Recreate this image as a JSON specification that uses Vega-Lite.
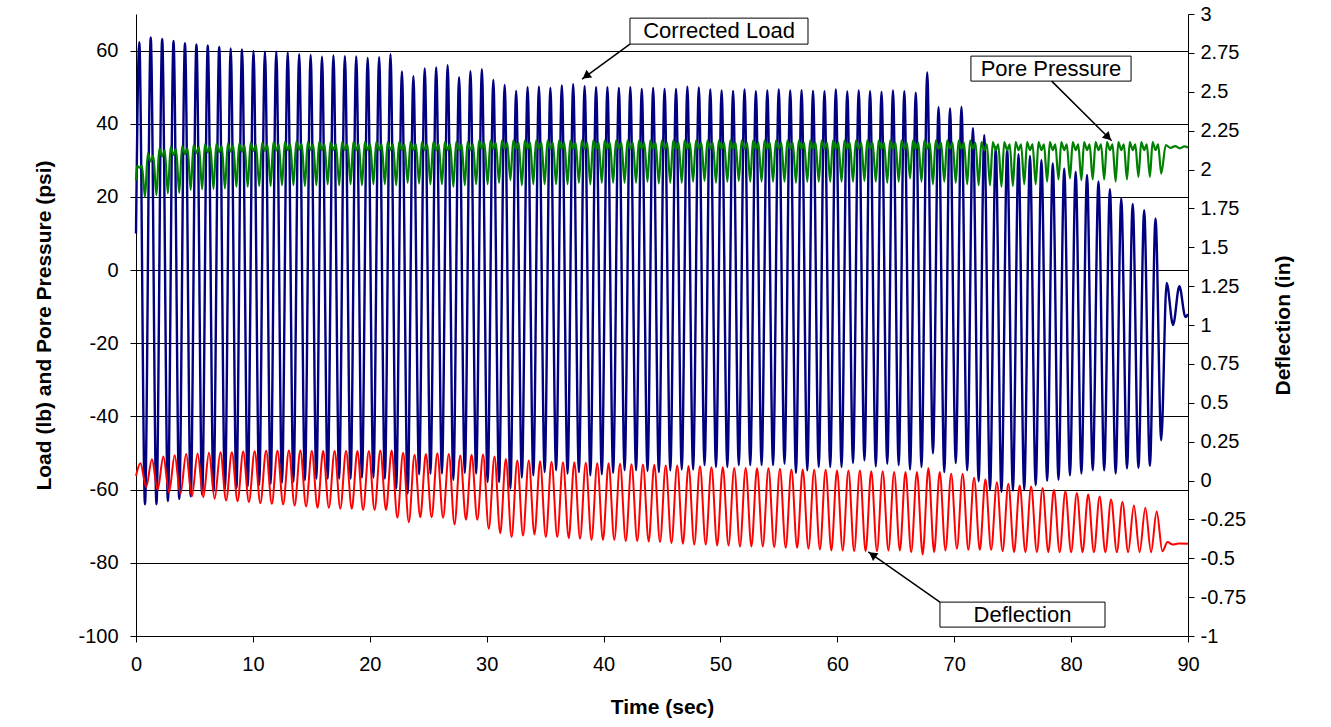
{
"$schema":"https://vega.github.io/schema/vega-lite/v6.json",
"width":1052,"height":622,
"autosize":{"type":"none"},
"padding":{"left":136,"top":14,"right":143,"bottom":91},
"background":"white",
"config":{"view":{"stroke":null},"font":"Liberation Sans",
"axis":{"labelFont":"Liberation Sans","titleFont":"Liberation Sans","labelFontSize":20,"titleFontSize":21,"titleFontWeight":"bold","labelColor":"#000","titleColor":"#000","domainColor":"#000","tickColor":"#000","tickSize":6,"labelFlush":false,"labelOverlap":false}},
"datasets":{
"load":[{"t":0,"v":10},
{"t":0.28,"v":62.3},{"t":0.77,"v":-64.0},{"t":1.26,"v":63.6},{"t":1.75,"v":-64.0},{"t":2.24,"v":63.2},{"t":2.73,"v":-63.1},{"t":3.21,"v":62.6},{"t":3.70,"v":-62.5},{"t":4.19,"v":62.0},{"t":4.68,"v":-61.8},
{"t":5.17,"v":61.7},{"t":5.66,"v":-61.3},{"t":6.14,"v":61.4},{"t":6.63,"v":-60.4},{"t":7.12,"v":61.0},{"t":7.61,"v":-59.9},{"t":8.10,"v":60.6},{"t":8.59,"v":-59.5},{"t":9.07,"v":60.3},{"t":9.56,"v":-59.1},
{"t":10.05,"v":59.9},{"t":10.54,"v":-58.7},{"t":11.03,"v":59.7},{"t":11.52,"v":-58.4},{"t":12.00,"v":59.7},{"t":12.49,"v":-58.1},{"t":12.98,"v":59.5},{"t":13.47,"v":-57.8},{"t":13.96,"v":59.0},{"t":14.45,"v":-57.4},
{"t":14.94,"v":58.8},{"t":15.43,"v":-57.0},{"t":15.91,"v":58.3},{"t":16.40,"v":-57.0},{"t":16.89,"v":58.7},{"t":17.38,"v":-57.0},{"t":17.87,"v":58.5},{"t":18.36,"v":-57.0},{"t":18.84,"v":58.4},{"t":19.33,"v":-56.7},
{"t":19.82,"v":58.0},{"t":20.31,"v":-56.7},{"t":20.80,"v":58.2},{"t":21.29,"v":-57.0},{"t":21.77,"v":59.0},{"t":22.26,"v":-59.7},{"t":22.75,"v":54.3},{"t":23.24,"v":-61.1},{"t":23.73,"v":53.0},{"t":24.22,"v":-55.8},
{"t":24.70,"v":55.1},{"t":25.19,"v":-55.6},{"t":25.68,"v":55.4},{"t":26.17,"v":-55.6},{"t":26.66,"v":56.0},{"t":27.15,"v":-57.3},{"t":27.64,"v":52.7},{"t":28.13,"v":-55.4},{"t":28.61,"v":54.4},{"t":29.10,"v":-55.6},
{"t":29.59,"v":54.9},{"t":30.08,"v":-57.9},{"t":30.57,"v":52.0},{"t":31.06,"v":-57.9},{"t":31.54,"v":50.6},{"t":32.03,"v":-59.7},{"t":32.52,"v":49.0},{"t":33.01,"v":-56.7},{"t":33.50,"v":50.0},{"t":33.99,"v":-56.1},
{"t":34.47,"v":50.1},{"t":34.96,"v":-55.2},{"t":35.45,"v":49.8},{"t":35.94,"v":-54.7},{"t":36.43,"v":50.5},{"t":36.92,"v":-55.6},{"t":37.40,"v":50.8},{"t":37.89,"v":-55.2},{"t":38.38,"v":50.3},{"t":38.87,"v":-56.1},
{"t":39.36,"v":50.0},{"t":39.85,"v":-55.8},{"t":40.33,"v":50.0},{"t":40.82,"v":-55.4},{"t":41.31,"v":49.8},{"t":41.80,"v":-54.7},{"t":42.29,"v":50.0},{"t":42.78,"v":-54.7},{"t":43.27,"v":49.5},{"t":43.76,"v":-54.9},
{"t":44.24,"v":49.8},{"t":44.73,"v":-55.2},{"t":45.22,"v":49.5},{"t":45.71,"v":-54.7},{"t":46.20,"v":49.5},{"t":46.69,"v":-54.5},{"t":47.17,"v":50.1},{"t":47.66,"v":-54.5},{"t":48.15,"v":49.9},{"t":48.64,"v":-53.3},
{"t":49.13,"v":49.4},{"t":49.62,"v":-53.8},{"t":50.10,"v":49.1},{"t":50.59,"v":-53.8},{"t":51.08,"v":49.0},{"t":51.57,"v":-53.3},{"t":52.06,"v":49.4},{"t":52.55,"v":-53.3},{"t":53.03,"v":48.9},{"t":53.52,"v":-53.3},
{"t":54.01,"v":49.1},{"t":54.50,"v":-53.3},{"t":54.99,"v":49.4},{"t":55.48,"v":-52.9},{"t":55.97,"v":49.1},{"t":56.46,"v":-55.4},{"t":56.94,"v":49.2},{"t":57.43,"v":-54.7},{"t":57.92,"v":49.0},{"t":58.41,"v":-53.8},
{"t":58.90,"v":48.9},{"t":59.39,"v":-53.8},{"t":59.87,"v":49.4},{"t":60.36,"v":-53.8},{"t":60.85,"v":48.8},{"t":61.34,"v":-52.7},{"t":61.83,"v":49.1},{"t":62.32,"v":-52.0},{"t":62.80,"v":48.9},{"t":63.29,"v":-53.6},
{"t":63.78,"v":48.7},{"t":64.27,"v":-52.9},{"t":64.76,"v":49.1},{"t":65.25,"v":-53.3},{"t":65.73,"v":48.9},{"t":66.22,"v":-54.5},{"t":66.71,"v":48.5},{"t":67.20,"v":-53.8},{"t":67.69,"v":54.0},{"t":68.18,"v":-50.1},
{"t":68.66,"v":44.5},{"t":69.15,"v":-55.2},{"t":69.64,"v":44.2},{"t":70.13,"v":-52.7},{"t":70.62,"v":44.6},{"t":71.11,"v":-54.7},{"t":71.60,"v":38.8},{"t":72.09,"v":-57.7},{"t":72.57,"v":36.9},{"t":73.06,"v":-60.0},
{"t":73.55,"v":33.6},{"t":74.04,"v":-60.6},{"t":74.53,"v":33.3},{"t":75.02,"v":-60.2},{"t":75.50,"v":31.7},{"t":75.99,"v":-60.0},{"t":76.48,"v":31.2},{"t":76.97,"v":-58.8},{"t":77.46,"v":30.1},{"t":77.95,"v":-57.6},
{"t":78.43,"v":29.2},{"t":78.92,"v":-57.3},{"t":79.41,"v":27.8},{"t":79.90,"v":-56.1},{"t":80.39,"v":26.9},{"t":80.88,"v":-55.6},{"t":81.36,"v":26.0},{"t":81.85,"v":-54.7},{"t":82.34,"v":24.2},{"t":82.83,"v":-54.7},
{"t":83.32,"v":22.1},{"t":83.81,"v":-55.6},{"t":84.29,"v":19.6},{"t":84.78,"v":-54.2},{"t":85.27,"v":18.1},{"t":85.76,"v":-54.1},{"t":86.25,"v":16.4},{"t":86.74,"v":-53.5},{"t":87.22,"v":14.1},{"t":87.71,"v":-46.5},
{"t":88.17,"v":-3.5},{"t":88.72,"v":-15.0},{"t":89.26,"v":-4.4},{"t":89.78,"v":-12.8},{"t":90,"v":-12.0}],
"pore":[{"t":0,"v":24.5},{"t":0.1,"v":28.6},{"t":0.3,"v":28.0},{"t":0.5,"v":28.6},{"t":0.77,"v":20.0},
{"t":1.01,"v":31.9},{"t":1.26,"v":29.7},{"t":1.48,"v":31.3},{"t":1.75,"v":20.5},
{"t":1.99,"v":33.3},{"t":2.24,"v":31.1},{"t":2.46,"v":32.7},{"t":2.73,"v":21.0},
{"t":2.96,"v":33.7},{"t":3.21,"v":31.5},{"t":3.43,"v":33.1},{"t":3.70,"v":21.1},
{"t":3.94,"v":33.9},{"t":4.19,"v":31.7},{"t":4.41,"v":33.3},{"t":4.68,"v":21.9},
{"t":4.92,"v":34.2},{"t":5.17,"v":32.0},{"t":5.39,"v":33.6},{"t":5.66,"v":22.1},
{"t":5.89,"v":34.4},{"t":6.14,"v":32.2},{"t":6.36,"v":33.8},{"t":6.63,"v":22.2},
{"t":6.87,"v":34.5},{"t":7.12,"v":32.3},{"t":7.34,"v":33.9},{"t":7.61,"v":22.3},
{"t":7.85,"v":34.6},{"t":8.10,"v":32.4},{"t":8.32,"v":34.0},{"t":8.59,"v":22.8},
{"t":8.82,"v":34.6},{"t":9.07,"v":32.4},{"t":9.29,"v":34.0},{"t":9.56,"v":22.8},
{"t":9.80,"v":34.8},{"t":10.05,"v":32.6},{"t":10.27,"v":34.2},{"t":10.54,"v":23.0},
{"t":10.78,"v":34.8},{"t":11.03,"v":32.6},{"t":11.25,"v":34.2},{"t":11.52,"v":23.0},
{"t":11.75,"v":34.9},{"t":12.00,"v":32.7},{"t":12.22,"v":34.3},{"t":12.49,"v":23.2},
{"t":12.73,"v":35.0},{"t":12.98,"v":32.8},{"t":13.20,"v":34.4},{"t":13.47,"v":23.2},
{"t":13.71,"v":35.1},{"t":13.96,"v":32.9},{"t":14.18,"v":34.5},{"t":14.45,"v":23.0},
{"t":14.69,"v":35.0},{"t":14.94,"v":32.8},{"t":15.16,"v":34.4},{"t":15.43,"v":23.2},
{"t":15.66,"v":35.0},{"t":15.91,"v":32.8},{"t":16.13,"v":34.4},{"t":16.40,"v":23.5},
{"t":16.64,"v":35.0},{"t":16.89,"v":32.8},{"t":17.11,"v":34.4},{"t":17.38,"v":23.2},
{"t":17.62,"v":35.0},{"t":17.87,"v":32.8},{"t":18.09,"v":34.4},{"t":18.36,"v":23.5},
{"t":18.59,"v":35.0},{"t":18.84,"v":32.8},{"t":19.06,"v":34.4},{"t":19.33,"v":23.2},
{"t":19.57,"v":35.0},{"t":19.82,"v":32.8},{"t":20.04,"v":34.4},{"t":20.31,"v":23.5},
{"t":20.55,"v":35.0},{"t":20.80,"v":32.8},{"t":21.02,"v":34.4},{"t":21.29,"v":23.5},
{"t":21.52,"v":35.0},{"t":21.77,"v":32.8},{"t":21.99,"v":34.4},{"t":22.26,"v":23.2},
{"t":22.50,"v":35.0},{"t":22.75,"v":32.8},{"t":22.97,"v":34.4},{"t":23.24,"v":23.9},
{"t":23.48,"v":35.0},{"t":23.73,"v":32.8},{"t":23.95,"v":34.4},{"t":24.22,"v":23.7},
{"t":24.45,"v":35.0},{"t":24.70,"v":32.8},{"t":24.92,"v":34.4},{"t":25.19,"v":23.5},
{"t":25.43,"v":35.0},{"t":25.68,"v":32.8},{"t":25.90,"v":34.4},{"t":26.17,"v":23.5},
{"t":26.41,"v":35.0},{"t":26.66,"v":32.8},{"t":26.88,"v":34.4},{"t":27.15,"v":22.8},
{"t":27.39,"v":35.0},{"t":27.64,"v":32.8},{"t":27.86,"v":34.4},{"t":28.13,"v":23.2},
{"t":28.36,"v":35.0},{"t":28.61,"v":32.8},{"t":28.83,"v":34.4},{"t":29.10,"v":23.5},
{"t":29.34,"v":35.4},{"t":29.59,"v":33.2},{"t":29.81,"v":34.8},{"t":30.08,"v":23.5},
{"t":30.32,"v":35.4},{"t":30.57,"v":33.2},{"t":30.79,"v":34.8},{"t":31.06,"v":23.9},
{"t":31.29,"v":35.4},{"t":31.54,"v":33.2},{"t":31.76,"v":34.8},{"t":32.03,"v":24.6},
{"t":32.27,"v":35.4},{"t":32.52,"v":33.2},{"t":32.74,"v":34.8},{"t":33.01,"v":23.2},
{"t":33.25,"v":35.4},{"t":33.50,"v":33.2},{"t":33.72,"v":34.8},{"t":33.99,"v":23.5},
{"t":34.22,"v":35.4},{"t":34.47,"v":33.2},{"t":34.69,"v":34.8},{"t":34.96,"v":23.5},
{"t":35.20,"v":35.4},{"t":35.45,"v":33.2},{"t":35.67,"v":34.8},{"t":35.94,"v":23.5},
{"t":36.18,"v":35.4},{"t":36.43,"v":33.2},{"t":36.65,"v":34.8},{"t":36.92,"v":23.5},
{"t":37.15,"v":35.4},{"t":37.40,"v":33.2},{"t":37.62,"v":34.8},{"t":37.89,"v":23.9},
{"t":38.13,"v":35.4},{"t":38.38,"v":33.2},{"t":38.60,"v":34.8},{"t":38.87,"v":23.5},
{"t":39.11,"v":35.4},{"t":39.36,"v":33.2},{"t":39.58,"v":34.8},{"t":39.85,"v":23.9},
{"t":40.08,"v":35.4},{"t":40.33,"v":33.2},{"t":40.55,"v":34.8},{"t":40.82,"v":23.9},
{"t":41.06,"v":35.4},{"t":41.31,"v":33.2},{"t":41.53,"v":34.8},{"t":41.80,"v":23.9},
{"t":42.04,"v":35.4},{"t":42.29,"v":33.2},{"t":42.51,"v":34.8},{"t":42.78,"v":23.9},
{"t":43.02,"v":35.4},{"t":43.27,"v":33.2},{"t":43.49,"v":34.8},{"t":43.76,"v":24.2},
{"t":43.99,"v":35.4},{"t":44.24,"v":33.2},{"t":44.46,"v":34.8},{"t":44.73,"v":23.7},
{"t":44.97,"v":35.4},{"t":45.22,"v":33.2},{"t":45.44,"v":34.8},{"t":45.71,"v":23.9},
{"t":45.95,"v":35.4},{"t":46.20,"v":33.2},{"t":46.42,"v":34.8},{"t":46.69,"v":23.9},
{"t":46.92,"v":35.4},{"t":47.17,"v":33.2},{"t":47.39,"v":34.8},{"t":47.66,"v":24.2},
{"t":47.90,"v":35.4},{"t":48.15,"v":33.2},{"t":48.37,"v":34.8},{"t":48.64,"v":24.4},
{"t":48.88,"v":35.4},{"t":49.13,"v":33.2},{"t":49.35,"v":34.8},{"t":49.62,"v":23.9},
{"t":49.85,"v":35.4},{"t":50.10,"v":33.2},{"t":50.32,"v":34.8},{"t":50.59,"v":24.2},
{"t":50.83,"v":35.4},{"t":51.08,"v":33.2},{"t":51.30,"v":34.8},{"t":51.57,"v":24.4},
{"t":51.81,"v":35.4},{"t":52.06,"v":33.2},{"t":52.28,"v":34.8},{"t":52.55,"v":24.2},
{"t":52.78,"v":35.4},{"t":53.03,"v":33.2},{"t":53.25,"v":34.8},{"t":53.52,"v":24.2},
{"t":53.76,"v":35.4},{"t":54.01,"v":33.2},{"t":54.23,"v":34.8},{"t":54.50,"v":24.2},
{"t":54.74,"v":35.4},{"t":54.99,"v":33.2},{"t":55.21,"v":34.8},{"t":55.48,"v":24.2},
{"t":55.72,"v":35.4},{"t":55.97,"v":33.2},{"t":56.19,"v":34.8},{"t":56.46,"v":23.9},
{"t":56.69,"v":35.4},{"t":56.94,"v":33.2},{"t":57.16,"v":34.8},{"t":57.43,"v":24.2},
{"t":57.67,"v":35.4},{"t":57.92,"v":33.2},{"t":58.14,"v":34.8},{"t":58.41,"v":24.2},
{"t":58.65,"v":35.4},{"t":58.90,"v":33.2},{"t":59.12,"v":34.8},{"t":59.39,"v":24.2},
{"t":59.62,"v":35.4},{"t":59.87,"v":33.2},{"t":60.09,"v":34.8},{"t":60.36,"v":24.2},
{"t":60.60,"v":35.4},{"t":60.85,"v":33.2},{"t":61.07,"v":34.8},{"t":61.34,"v":24.2},
{"t":61.58,"v":35.4},{"t":61.83,"v":33.2},{"t":62.05,"v":34.8},{"t":62.32,"v":24.4},
{"t":62.55,"v":35.4},{"t":62.80,"v":33.2},{"t":63.02,"v":34.8},{"t":63.29,"v":24.2},
{"t":63.53,"v":35.4},{"t":63.78,"v":33.2},{"t":64.00,"v":34.8},{"t":64.27,"v":23.9},
{"t":64.51,"v":35.4},{"t":64.76,"v":33.2},{"t":64.98,"v":34.8},{"t":65.25,"v":24.2},
{"t":65.48,"v":35.4},{"t":65.73,"v":33.2},{"t":65.95,"v":34.8},{"t":66.22,"v":25.1},
{"t":66.46,"v":35.4},{"t":66.71,"v":33.2},{"t":66.93,"v":34.8},{"t":67.20,"v":24.2},
{"t":67.44,"v":35.4},{"t":67.69,"v":33.2},{"t":67.91,"v":34.8},{"t":68.18,"v":23.5},
{"t":68.41,"v":35.4},{"t":68.66,"v":33.2},{"t":68.88,"v":34.8},{"t":69.15,"v":24.2},
{"t":69.39,"v":35.4},{"t":69.64,"v":33.2},{"t":69.86,"v":34.8},{"t":70.13,"v":23.9},
{"t":70.37,"v":35.4},{"t":70.62,"v":33.2},{"t":70.84,"v":34.8},{"t":71.11,"v":23.5},
{"t":71.35,"v":35.4},{"t":71.60,"v":33.2},{"t":71.82,"v":34.8},{"t":72.09,"v":23.2},
{"t":72.32,"v":35.0},{"t":72.57,"v":32.8},{"t":72.79,"v":34.4},{"t":73.06,"v":23.2},
{"t":73.30,"v":35.0},{"t":73.55,"v":32.8},{"t":73.77,"v":34.4},{"t":74.04,"v":22.8},
{"t":74.28,"v":35.0},{"t":74.53,"v":32.8},{"t":74.75,"v":34.4},{"t":75.02,"v":23.0},
{"t":75.25,"v":35.0},{"t":75.50,"v":32.8},{"t":75.72,"v":34.4},{"t":75.99,"v":23.5},
{"t":76.23,"v":35.0},{"t":76.48,"v":32.8},{"t":76.70,"v":34.4},{"t":76.97,"v":23.5},
{"t":77.21,"v":35.0},{"t":77.46,"v":32.8},{"t":77.68,"v":34.4},{"t":77.95,"v":24.2},
{"t":78.18,"v":35.0},{"t":78.43,"v":32.8},{"t":78.65,"v":34.4},{"t":78.92,"v":24.8},
{"t":79.16,"v":35.0},{"t":79.41,"v":32.8},{"t":79.63,"v":34.4},{"t":79.90,"v":25.1},
{"t":80.14,"v":35.0},{"t":80.39,"v":32.8},{"t":80.61,"v":34.4},{"t":80.88,"v":24.6},
{"t":81.11,"v":35.0},{"t":81.36,"v":32.8},{"t":81.58,"v":34.4},{"t":81.85,"v":24.8},
{"t":82.09,"v":35.0},{"t":82.34,"v":32.8},{"t":82.56,"v":34.4},{"t":82.83,"v":24.8},
{"t":83.07,"v":35.0},{"t":83.32,"v":32.8},{"t":83.54,"v":34.4},{"t":83.81,"v":24.2},
{"t":84.04,"v":35.0},{"t":84.29,"v":32.8},{"t":84.51,"v":34.4},{"t":84.78,"v":24.8},
{"t":85.02,"v":35.0},{"t":85.27,"v":32.8},{"t":85.49,"v":34.4},{"t":85.76,"v":25.5},
{"t":86.00,"v":35.0},{"t":86.25,"v":32.8},{"t":86.47,"v":34.4},{"t":86.74,"v":25.5},
{"t":86.97,"v":35.0},{"t":87.22,"v":32.8},{"t":87.44,"v":34.4},{"t":87.71,"v":26.4},
{"t":88.1,"v":34.2},{"t":88.5,"v":33.4},{"t":88.9,"v":33.9},{"t":89.3,"v":33.3},{"t":89.7,"v":33.8},{"t":90,"v":33.5}],
"defl":[{"t":0,"v":0.03},
{"t":0.38,"v":0.111},{"t":0.87,"v":-0.043},{"t":1.36,"v":0.137},{"t":1.85,"v":-0.060},{"t":2.34,"v":0.154},{"t":2.83,"v":-0.075},{"t":3.31,"v":0.163},{"t":3.80,"v":-0.086},{"t":4.29,"v":0.171},{"t":4.78,"v":-0.103},
{"t":5.27,"v":0.174},{"t":5.76,"v":-0.107},{"t":6.24,"v":0.178},{"t":6.73,"v":-0.118},{"t":7.22,"v":0.182},{"t":7.71,"v":-0.129},{"t":8.20,"v":0.182},{"t":8.69,"v":-0.133},{"t":9.17,"v":0.186},{"t":9.66,"v":-0.139},
{"t":10.15,"v":0.188},{"t":10.64,"v":-0.146},{"t":11.13,"v":0.191},{"t":11.62,"v":-0.150},{"t":12.10,"v":0.191},{"t":12.59,"v":-0.154},{"t":13.08,"v":0.193},{"t":13.57,"v":-0.161},{"t":14.06,"v":0.193},{"t":14.55,"v":-0.167},
{"t":15.04,"v":0.189},{"t":15.53,"v":-0.176},{"t":16.01,"v":0.189},{"t":16.50,"v":-0.176},{"t":16.99,"v":0.189},{"t":17.48,"v":-0.182},{"t":17.97,"v":0.189},{"t":18.46,"v":-0.182},{"t":18.94,"v":0.189},{"t":19.43,"v":-0.189},
{"t":19.92,"v":0.189},{"t":20.41,"v":-0.189},{"t":20.90,"v":0.193},{"t":21.39,"v":-0.189},{"t":21.87,"v":0.193},{"t":22.36,"v":-0.240},{"t":22.85,"v":0.178},{"t":23.34,"v":-0.268},{"t":23.83,"v":0.165},{"t":24.32,"v":-0.236},
{"t":24.80,"v":0.171},{"t":25.29,"v":-0.236},{"t":25.78,"v":0.176},{"t":26.27,"v":-0.240},{"t":26.76,"v":0.171},{"t":27.25,"v":-0.283},{"t":27.74,"v":0.161},{"t":28.23,"v":-0.253},{"t":28.71,"v":0.165},{"t":29.20,"v":-0.253},
{"t":29.69,"v":0.167},{"t":30.18,"v":-0.311},{"t":30.67,"v":0.154},{"t":31.16,"v":-0.339},{"t":31.64,"v":0.139},{"t":32.13,"v":-0.364},{"t":32.62,"v":0.129},{"t":33.11,"v":-0.354},{"t":33.60,"v":0.129},{"t":34.09,"v":-0.347},
{"t":34.57,"v":0.124},{"t":35.06,"v":-0.364},{"t":35.55,"v":0.120},{"t":36.04,"v":-0.364},{"t":36.53,"v":0.118},{"t":37.02,"v":-0.371},{"t":37.50,"v":0.118},{"t":37.99,"v":-0.375},{"t":38.48,"v":0.114},{"t":38.97,"v":-0.382},
{"t":39.46,"v":0.111},{"t":39.95,"v":-0.382},{"t":40.43,"v":0.111},{"t":40.92,"v":-0.382},{"t":41.41,"v":0.107},{"t":41.90,"v":-0.390},{"t":42.39,"v":0.105},{"t":42.88,"v":-0.390},{"t":43.37,"v":0.103},{"t":43.86,"v":-0.393},
{"t":44.34,"v":0.101},{"t":44.83,"v":-0.396},{"t":45.32,"v":0.096},{"t":45.81,"v":-0.403},{"t":46.30,"v":0.096},{"t":46.79,"v":-0.407},{"t":47.27,"v":0.094},{"t":47.76,"v":-0.412},{"t":48.25,"v":0.092},{"t":48.74,"v":-0.412},
{"t":49.23,"v":0.086},{"t":49.72,"v":-0.418},{"t":50.20,"v":0.086},{"t":50.69,"v":-0.418},{"t":51.18,"v":0.081},{"t":51.67,"v":-0.424},{"t":52.16,"v":0.081},{"t":52.65,"v":-0.424},{"t":53.13,"v":0.079},{"t":53.62,"v":-0.424},
{"t":54.11,"v":0.079},{"t":54.60,"v":-0.429},{"t":55.09,"v":0.075},{"t":55.58,"v":-0.433},{"t":56.07,"v":0.071},{"t":56.56,"v":-0.433},{"t":57.04,"v":0.071},{"t":57.53,"v":-0.439},{"t":58.02,"v":0.069},{"t":58.51,"v":-0.443},
{"t":59.00,"v":0.069},{"t":59.49,"v":-0.450},{"t":59.97,"v":0.064},{"t":60.46,"v":-0.450},{"t":60.95,"v":0.064},{"t":61.44,"v":-0.455},{"t":61.93,"v":0.064},{"t":62.42,"v":-0.455},{"t":62.90,"v":0.060},{"t":63.39,"v":-0.455},
{"t":63.88,"v":0.060},{"t":64.37,"v":-0.450},{"t":64.86,"v":0.054},{"t":65.35,"v":-0.450},{"t":65.83,"v":0.054},{"t":66.32,"v":-0.461},{"t":66.81,"v":0.054},{"t":67.30,"v":-0.476},{"t":67.79,"v":0.081},{"t":68.28,"v":-0.461},
{"t":68.76,"v":0.054},{"t":69.25,"v":-0.450},{"t":69.74,"v":0.043},{"t":70.23,"v":-0.439},{"t":70.72,"v":0.043},{"t":71.21,"v":-0.446},{"t":71.70,"v":0.017},{"t":72.19,"v":-0.446},{"t":72.67,"v":0.008},{"t":73.16,"v":-0.446},
{"t":73.65,"v":-0.011},{"t":74.14,"v":-0.455},{"t":74.63,"v":-0.021},{"t":75.12,"v":-0.461},{"t":75.60,"v":-0.032},{"t":76.09,"v":-0.461},{"t":76.58,"v":-0.039},{"t":77.07,"v":-0.461},{"t":77.56,"v":-0.049},{"t":78.05,"v":-0.461},
{"t":78.53,"v":-0.060},{"t":79.02,"v":-0.461},{"t":79.51,"v":-0.069},{"t":80.00,"v":-0.461},{"t":80.49,"v":-0.081},{"t":80.98,"v":-0.461},{"t":81.46,"v":-0.090},{"t":81.95,"v":-0.461},{"t":82.44,"v":-0.103},{"t":82.93,"v":-0.461},
{"t":83.42,"v":-0.122},{"t":83.91,"v":-0.461},{"t":84.39,"v":-0.139},{"t":84.88,"v":-0.461},{"t":85.37,"v":-0.161},{"t":85.86,"v":-0.461},{"t":86.35,"v":-0.176},{"t":86.84,"v":-0.461},{"t":87.32,"v":-0.199},{"t":87.81,"v":-0.455},
{"t":88.25,"v":-0.396},{"t":88.7,"v":-0.412},{"t":89.2,"v":-0.405},{"t":90,"v":-0.407}]
},
"layer":[
{"layer":[
{"data":{"name":"load"},"mark":{"type":"line","color":"#000080","strokeWidth":2.4,"interpolate":"monotone"},
"encoding":{
"x":{"field":"t","type":"quantitative","title":"Time (sec)","scale":{"domain":[0,90],"nice":false},"axis":{"values":[0,10,20,30,40,50,60,70,80,90],"grid":false,"labelPadding":12,"titlePadding":22,"labelExpr":"''+datum.value"}},
"y":{"field":"v","type":"quantitative","title":"Load (lb) and Pore Pressure (psi)","scale":{"domain":[-100,70],"nice":false},"axis":{"values":[-100,-80,-60,-40,-20,0,20,40,60],"grid":true,"gridColor":"#000","gridWidth":1,"labelPadding":12,"titlePadding":23,"labelExpr":"''+datum.value"}}}},
{"data":{"name":"pore"},"mark":{"type":"line","color":"#008000","strokeWidth":2.2,"interpolate":"monotone"},
"encoding":{"x":{"field":"t","type":"quantitative","title":"Time (sec)"},"y":{"field":"v","type":"quantitative","title":"Load (lb) and Pore Pressure (psi)"}}},
{"data":{"values":[{"t":42.26,"t2":57.49,"v":68.87,"v2":61.77},{"t":71.43,"t2":85.13,"v":58.49,"v2":51.66},{"t":68.78,"t2":82.9,"v":-90.74,"v2":-97.57}]},
"mark":{"type":"rect","fill":"white","stroke":"black","strokeWidth":1},
"encoding":{"x":{"field":"t","type":"quantitative","title":"Time (sec)"},"x2":{"field":"t2"},"y":{"field":"v","type":"quantitative","title":"Load (lb) and Pore Pressure (psi)"},"y2":{"field":"v2"}}},
{"data":{"values":[{"t":49.88,"v":65.32,"label":"Corrected Load"},{"t":78.28,"v":55.07,"label":"Pore Pressure"},{"t":75.84,"v":-94.15,"label":"Deflection"}]},
"mark":{"type":"text","font":"Liberation Sans","fontSize":22,"align":"center","baseline":"middle","color":"black"},
"encoding":{"x":{"field":"t","type":"quantitative","title":"Time (sec)"},"y":{"field":"v","type":"quantitative","title":"Load (lb) and Pore Pressure (psi)"},"text":{"field":"label"}}},
{"data":{"values":[{"t":42.26,"v":61.77,"t2":38.16,"v2":52.2},{"t":78.34,"v":51.66,"t2":83.47,"v2":35.34},{"t":68.78,"v":-90.74,"t2":62.65,"v2":-76.99}]},
"mark":{"type":"rule","color":"black","strokeWidth":1.5},
"encoding":{"x":{"field":"t","type":"quantitative","title":"Time (sec)"},"x2":{"field":"t2"},"y":{"field":"v","type":"quantitative","title":"Load (lb) and Pore Pressure (psi)"},"y2":{"field":"v2"}}},
{"data":{"values":[{"t":38.5,"v":53.02}]},"mark":{"type":"point","shape":"triangle-up","filled":true,"color":"black","opacity":1,"size":90,"angle":233},
"encoding":{"x":{"field":"t","type":"quantitative","title":"Time (sec)"},"y":{"field":"v","type":"quantitative","title":"Load (lb) and Pore Pressure (psi)"}}},
{"data":{"values":[{"t":83.17,"v":36.32}]},"mark":{"type":"point","shape":"triangle-up","filled":true,"color":"black","opacity":1,"size":90,"angle":135},
"encoding":{"x":{"field":"t","type":"quantitative","title":"Time (sec)"},"y":{"field":"v","type":"quantitative","title":"Load (lb) and Pore Pressure (psi)"}}},
{"data":{"values":[{"t":63.0,"v":-77.78}]},"mark":{"type":"point","shape":"triangle-up","filled":true,"color":"black","opacity":1,"size":90,"angle":305},
"encoding":{"x":{"field":"t","type":"quantitative","title":"Time (sec)"},"y":{"field":"v","type":"quantitative","title":"Load (lb) and Pore Pressure (psi)"}}}
]},
{"data":{"name":"defl"},"mark":{"type":"line","color":"#FF0000","strokeWidth":2,"interpolate":"monotone"},
"encoding":{"x":{"field":"t","type":"quantitative","title":"Time (sec)"},
"y":{"field":"v","type":"quantitative","title":"Deflection (in)","scale":{"domain":[-1,3],"nice":false},"axis":{"orient":"right","values":[-1,-0.75,-0.5,-0.25,0,0.25,0.5,0.75,1,1.25,1.5,1.75,2,2.25,2.5,2.75,3],"grid":false,"labelPadding":6,"titlePadding":27,"titleAngle":-90,"titleBaseline":"top","labelExpr":"''+datum.value"}}}}
],
"resolve":{"scale":{"y":"independent"}}
}
